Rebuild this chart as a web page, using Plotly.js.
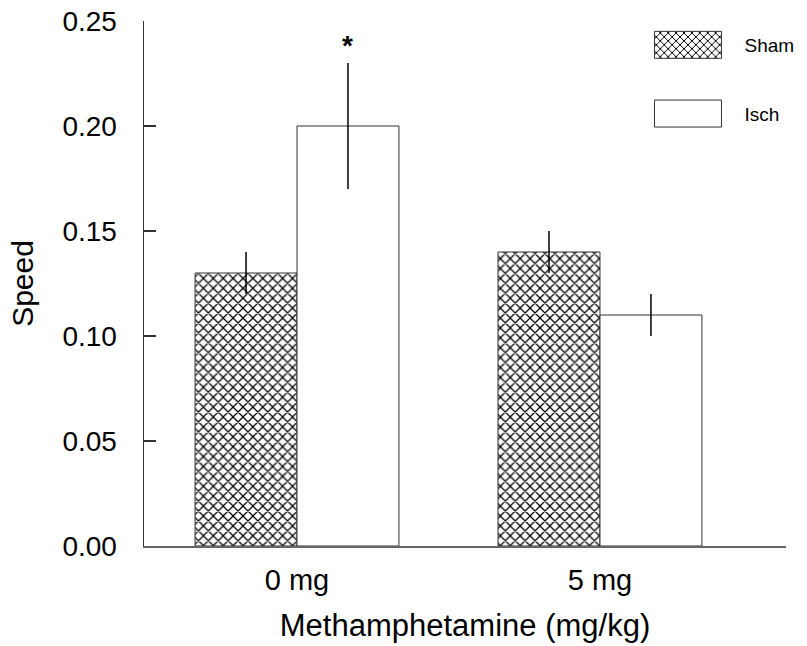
<!DOCTYPE html>
<html><head><meta charset="utf-8">
<script src="https://cdn.plot.ly/plotly-3.0.1.min.js"></script>
<style>html,body{margin:0;padding:0;background:#fff}</style>
</head><body>
<div id="chart" style="width:807px;height:646px"></div>
<script>
const categories = ['0 mg', '5 mg'];
const shamMeans = [0.13, 0.14];
const shamErr = [0.01, 0.01];
const ischMeans = [0.20, 0.11];
const ischErr = [0.03, 0.01];
const yTicks = [0, 0.05, 0.10, 0.15, 0.20, 0.25];
const yTickLabels = ['0.00', '0.05', '0.10', '0.15', '0.20', '0.25'];
const sigLabels = ['*', ''];

const FONT = 'Arial, "Liberation Sans", sans-serif';

const errStyle = {type: 'data', visible: true, color: '#000', thickness: 1.5, width: 0};

const traces = [
  {
    type: 'bar', name: 'Sham', x: categories, y: shamMeans, legendgroup: 'sham',
    marker: {color: '#fff', line: {color: '#333', width: 1},
      pattern: {shape: 'x', size: 7, solidity: 0.32, fgcolor: '#000', bgcolor: '#fff', fillmode: 'replace'}},
    error_y: Object.assign({array: shamErr}, errStyle)
  },
  {
    type: 'bar', name: 'Isch', x: categories, y: ischMeans, legendgroup: 'isch',
    marker: {color: '#fff', line: {color: '#333', width: 1}},
    error_y: Object.assign({array: ischErr}, errStyle)
  }
];

const annotations = [];
sigLabels.forEach((s, i) => {
  if (!s) return;
  annotations.push({
    x: categories[i], y: ischMeans[i] + ischErr[i], xref: 'x', yref: 'y',
    text: '<b>' + s + '</b>', showarrow: false, xshift: 50.5, yanchor: 'bottom', yshift: 0,
    font: {family: FONT, size: 28, color: '#000'}
  });
});

const layout = {
  width: 807, height: 646,
  margin: {l: 144, r: 21, t: 21, b: 100, autoexpand: false},
  paper_bgcolor: '#fff', plot_bgcolor: '#fff',
  font: {family: FONT, color: '#000'},
  barmode: 'group', bargap: 0.327, bargroupgap: 0,
  showlegend: true,
  legend: {
    x: 0.7593, xanchor: 'left', y: 0.9905, yanchor: 'top',
    itemwidth: 103, traceorder: 'grouped', tracegroupgap: 41,
    font: {family: FONT, size: 19, color: '#000'},
    bgcolor: 'rgba(0,0,0,0)', borderwidth: 0
  },
  xaxis: {
    type: 'category', range: [-0.505, 1.614], automargin: false,
    showline: true, linecolor: '#666', linewidth: 2,
    ticks: '', showgrid: false, zeroline: false,
    tickfont: {family: FONT, size: 29, color: '#000'},
    ticklabelstandoff: 7,
    title: {text: 'Methamphetamine (mg/kg)', font: {family: FONT, size: 31, color: '#000'}, standoff: 20}
  },
  yaxis: {
    range: [0, 0.25], tickvals: yTicks, ticktext: yTickLabels, automargin: false,
    showline: true, linecolor: '#333', linewidth: 1.5,
    ticks: 'inside', ticklen: 12, tickwidth: 1.5, tickcolor: '#333',
    showgrid: false, zeroline: false,
    tickfont: {family: FONT, size: 28, color: '#000'},
    ticklabelstandoff: 20,
    title: {text: 'Speed', font: {family: FONT, size: 30, color: '#000'}, standoff: 20}
  },
  annotations: annotations
};

Plotly.newPlot('chart', traces, layout, {displayModeBar: false, staticPlot: true}).then(() => {
  document.querySelectorAll('.legend .legendpoints path').forEach(p => {
    p.setAttribute('d', 'M33.5,13.5H-33.5V-13.5H33.5Z');
  });
  const sb = document.querySelector('.legend .scrollbox');
  if (sb) sb.removeAttribute('clip-path');
});
</script>
</body></html>
